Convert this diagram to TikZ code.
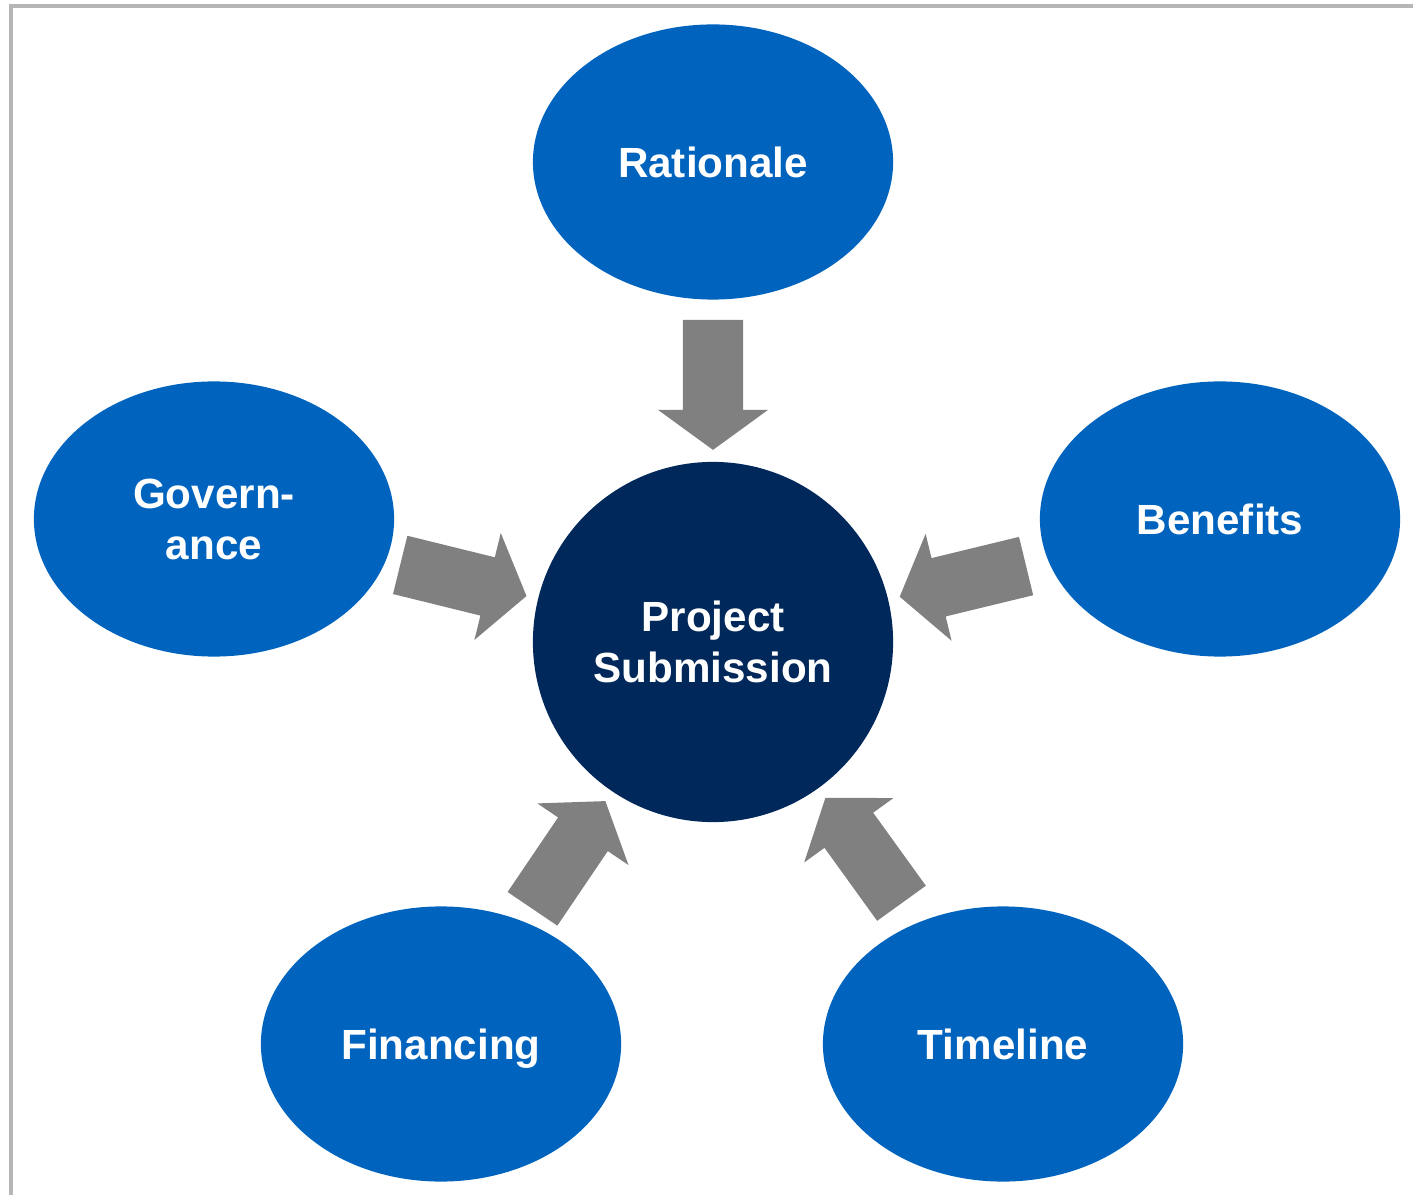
\documentclass[tikz,border=0pt]{standalone}
\usepackage{fontspec}
\setmainfont{Liberation Sans}
\usetikzlibrary{shapes.geometric,calc}

\definecolor{topicblue}{RGB}{0,100,190}
\definecolor{hubnavy}{RGB}{0,40,90}
\definecolor{arrowgray}{RGB}{128,128,128}
\definecolor{framegray}{RGB}{182,182,182}

\tikzset{
	topic/.style={ellipse,fill=topicblue,minimum width=3.6cm,minimum height=2.75cm,inner sep=0pt,
			text=white,font=\fontsize{12}{14.4}\selectfont\bfseries,align=center,text depth=0pt},
	hubnode/.style={circle,fill=hubnavy,minimum size=3.6cm,inner sep=0pt,
			text=white,font=\fontsize{12}{14.4}\selectfont\bfseries,align=center},
	blockarrow/.style={fill=arrowgray}
}

\begin{document}
\begin{tikzpicture}[x=0.01cm,y=-0.01cm]
			\useasboundingbox (0,0) rectangle (1413,1195);
			% outer frame
			\draw[framegray,line width=1.2pt] (11,1195) -- (11,6) -- (1413,6);

			\node[hubnode] (hub) at (713,642) {Project\\Submission};
			\node[topic] (rat) at (713,162) {Rationale};
			\node[topic] (gov) at (214,519) {Govern-\\ance};
			\node[topic] (ben) at (1220,519) {Benefits};
			\node[topic] (fin) at (441,1044) {Financing};
			\node[topic] (tim) at (1003,1044) {Timeline};

			% block arrows pointing in to the hub
			\foreach \n in {rat,gov,ben,fin,tim}{
					\path ($(hub)!3.22cm!(\n)$) coordinate (t)
					($(hub)!2.32cm!(\n)$) coordinate (h)
					($(hub)!1.92cm!(\n)$) coordinate (p);
					\fill[blockarrow] ($(t)!3mm!90:(p)$) -- ($(h)!3mm!90:(p)$) -- ($(h)!5.5mm!90:(p)$)
					-- (p) -- ($(h)!5.5mm!-90:(p)$) -- ($(h)!3mm!-90:(p)$) -- ($(t)!3mm!-90:(p)$) -- cycle;
				}
		\end{tikzpicture}
\end{document}
